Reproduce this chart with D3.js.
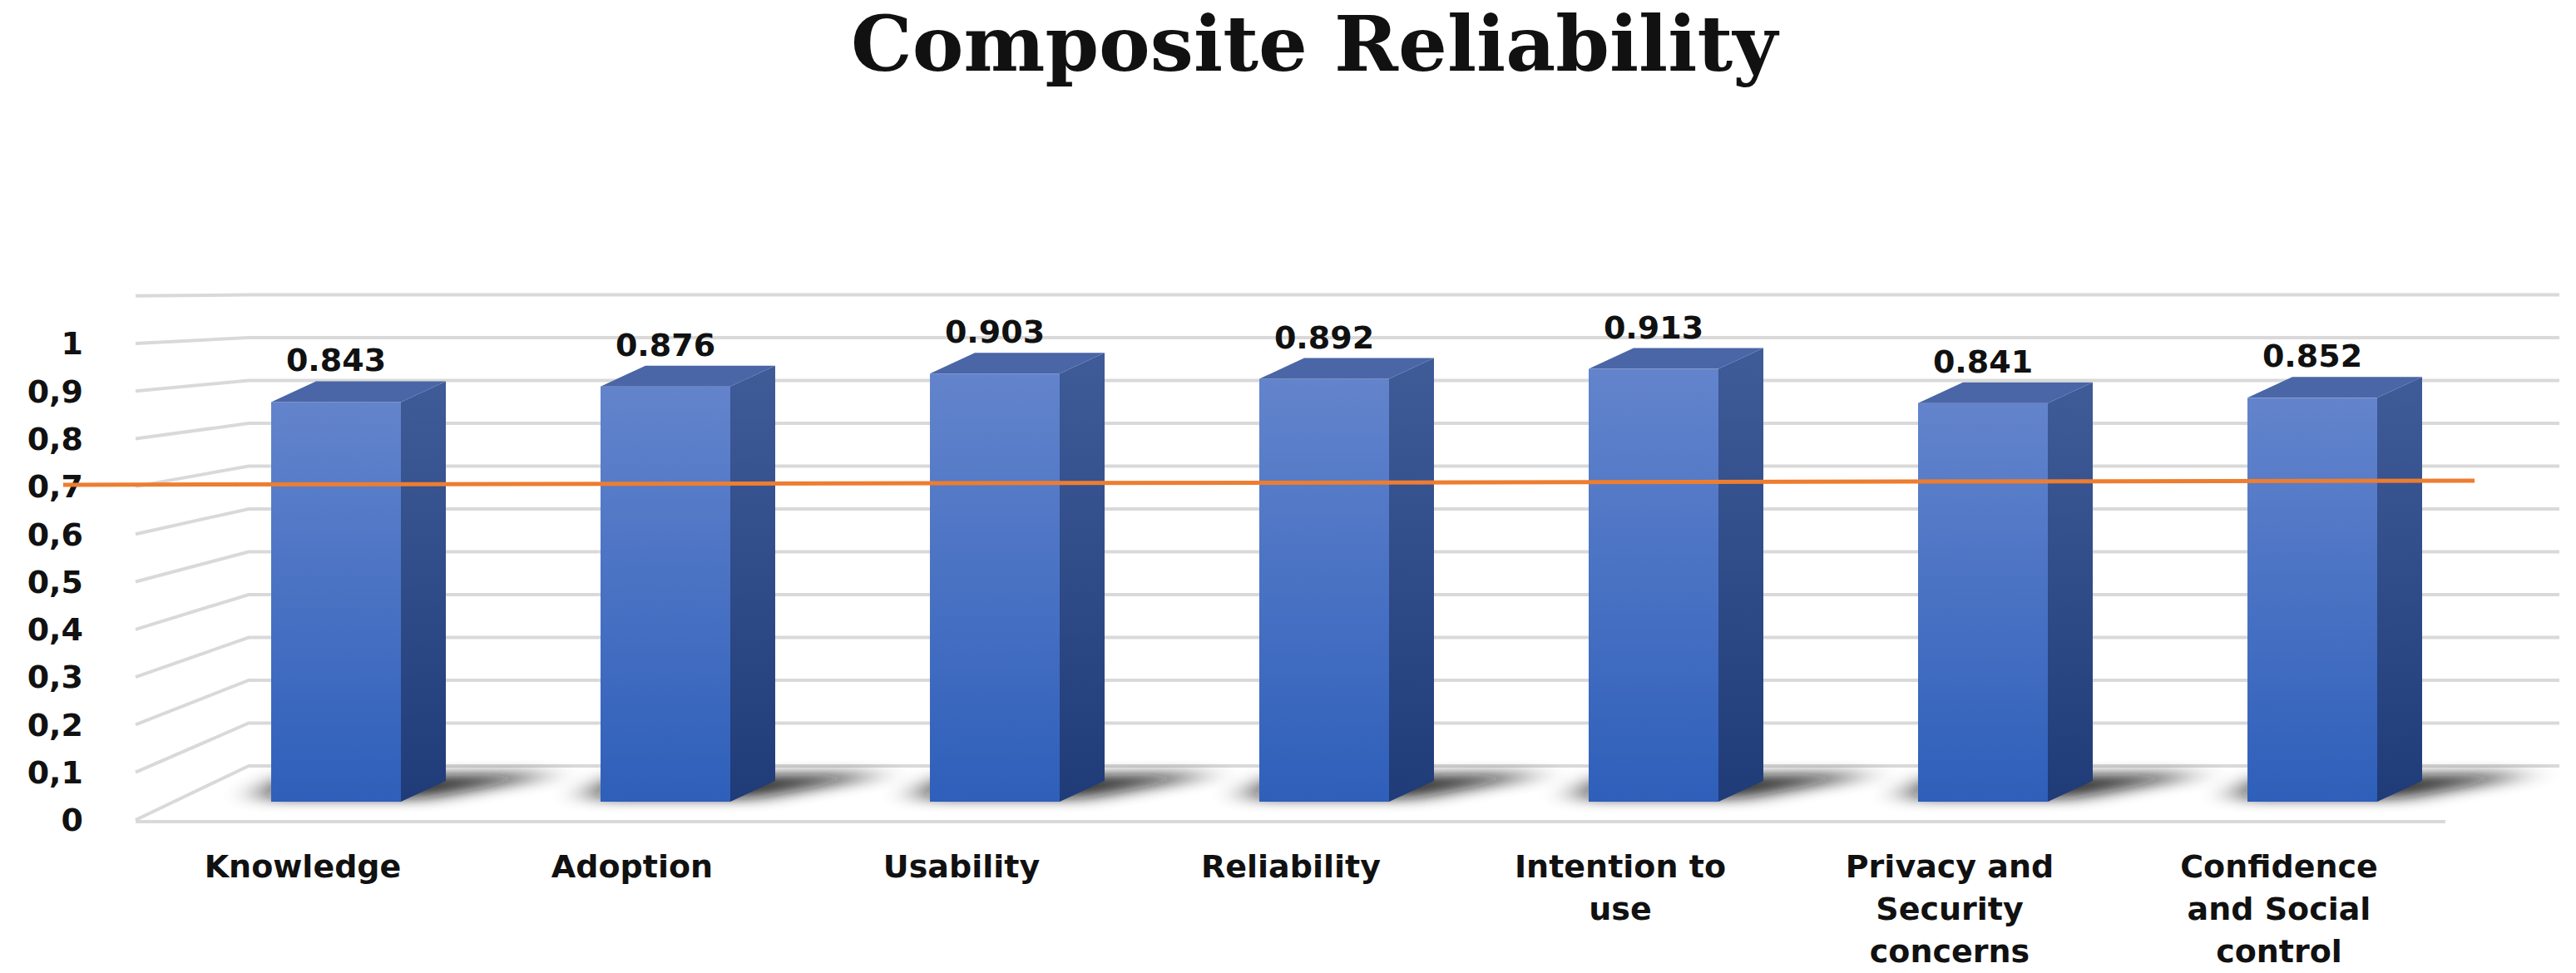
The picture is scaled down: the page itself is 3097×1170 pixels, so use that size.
<!DOCTYPE html>
<html>
<head>
<meta charset="utf-8">
<script src="https://cdn.jsdelivr.net/npm/d3@7"></script>
<style>
  body { margin: 0; background: #fff; }
</style>
</head>
<body>
<svg id="chart" width="3097" height="1170"></svg>
<script>
// data
const categories = [["Knowledge"], ["Adoption"], ["Usability"], ["Reliability"], ["Intention to", "use"],
    ["Privacy and", "Security", "concerns"], ["Confidence", "and Social", "control"]];
const values = [0.843, 0.876, 0.903, 0.892, 0.913, 0.841, 0.852];
const valueLabels = ["0.843", "0.876", "0.903", "0.892", "0.913", "0.841", "0.852"];
const tickValues = [0, 0.1, 0.2, 0.3, 0.4, 0.5, 0.6, 0.7, 0.8, 0.9, 1];
const tickLabels = ["0", "0,1", "0,2", "0,3", "0,4", "0,5", "0,6", "0,7", "0,8", "0,9", "1"];
const threshold = 0.7;

const svg = d3.select("#chart");

// scales
var x = d3.scaleBand().domain(d3.range(values.length)).range([156, 156 + 396 * 7]).paddingInner(0);
var yFront = d3.scaleLinear().domain([0, 1]).range([986, 413]);
var yBack = d3.scaleLinear().domain([0, 1]).range([921, 406]);
var yBar = d3.scaleLinear().domain([0, 1]).range([964, 394]);

// gradients
const defs = svg.append("defs");
function grad(id, c1, c2) {
    const g = defs.append("linearGradient").attr("id", id).attr("x1", 0).attr("y1", 0).attr("x2", 0).attr("y2", 1);
    g.append("stop").attr("offset", 0).attr("stop-color", c1);
    g.append("stop").attr("offset", 1).attr("stop-color", c2);
}
grad("front", "#6384cc", "#2e5fba");
grad("side", "#3f5b98", "#1f3b78");
defs.append("filter").attr("id", "blur").attr("x", "-50%").attr("width", "200%")
    .attr("y", "-100%").attr("height", "300%")
    .append("feGaussianBlur").attr("stdDeviation", "22 8");

// gridlines: back wall + side wall diagonals
const gridVals = tickValues.concat([1.1]);
svg.append("g").selectAll("path").data(gridVals).join("path")
    .attr("d", d => `M163,${yFront(d)} L299,${yBack(d)} L3077,${yBack(d)}`)
    .attr("fill", "none").attr("stroke", "#d9d9d9").attr("stroke-width", 4);
// floor front edge
svg.append("line").attr("x1", 163).attr("x2", 2940).attr("y1", 988).attr("y2", 988)
    .attr("stroke", "#d9d9d9").attr("stroke-width", 4);

// y tick labels
svg.append("g").selectAll("text").data(tickValues).join("text")
    .attr("x", 100).attr("y", d => yFront(d)).attr("dy", "0.35em")
    .attr("text-anchor", "end")
    .style("font", "bold 38px 'DejaVu Sans'").attr("fill", "#111")
    .text((d, i) => tickLabels[i]);

// bars
const fw = 156, sd = 54, tu = 25;
const bars = svg.append("g").selectAll("g").data(values).join("g");
const bx = (d, i) => x(i) + 170;
bars.append("path")
    .attr("d", (d, i) => { const l = bx(d, i); return `M${l - 20},${yBar(0) - 4} L${l + fw + 30},${yBar(0) - 4} L${l + fw + 190},${yBar(0) - 34} L${l + 20},${yBar(0) - 30} Z`; })
    .attr("fill", "#111").attr("opacity", 0.85)
    .attr("filter", "url(#blur)");
bars.append("rect")
    .attr("x", bx).attr("y", d => yBar(d)).attr("width", fw).attr("height", d => yBar(0) - yBar(d))
    .attr("fill", "url(#front)");
bars.append("path")
    .attr("d", (d, i) => { const l = bx(d, i) + fw; return `M${l},${yBar(d)} L${l + sd},${yBar(d) - tu} L${l + sd},${yBar(0) - tu} L${l},${yBar(0)} Z`; })
    .attr("fill", "url(#side)");
bars.append("path")
    .attr("d", (d, i) => { const l = bx(d, i); return `M${l},${yBar(d)} L${l + sd},${yBar(d) - tu} L${l + fw + sd},${yBar(d) - tu} L${l + fw},${yBar(d)} Z`; })
    .attr("fill", "#4a66a6");

// value labels
bars.append("text")
    .attr("x", (d, i) => bx(d, i) + fw / 2).attr("y", d => yBar(d) - tu - 12)
    .attr("text-anchor", "middle")
    .style("font", "bold 38px 'DejaVu Sans'").attr("fill", "#111")
    .text((d, i) => valueLabels[i]);

// threshold line
svg.append("line").attr("x1", 76).attr("x2", 2975)
    .attr("y1", yFront(threshold) - 2).attr("y2", yFront(threshold) - 7)
    .attr("stroke", "#ed7d31").attr("stroke-width", 5);

// category labels
const cat = svg.append("g").selectAll("text").data(categories).join("text")
    .attr("text-anchor", "middle")
    .style("font", "bold 38px 'DejaVu Sans'").attr("fill", "#111");
cat.selectAll("tspan").data((d, i) => d.map(s => ({ s, i }))).join("tspan")
    .attr("x", d => bx(0, d.i) + fw / 2 - 40).attr("y", (d, j) => 1055 + j * 51)
    .text(d => d.s);

// title
svg.append("text").attr("x", 1580).attr("y", 85).attr("text-anchor", "middle")
    .style("font", "bold 92px 'DejaVu Serif'").attr("fill", "#111")
    .attr("textLength", 1114).attr("lengthAdjust", "spacingAndGlyphs")
    .text("Composite Reliability");
</script>
</body>
</html>
